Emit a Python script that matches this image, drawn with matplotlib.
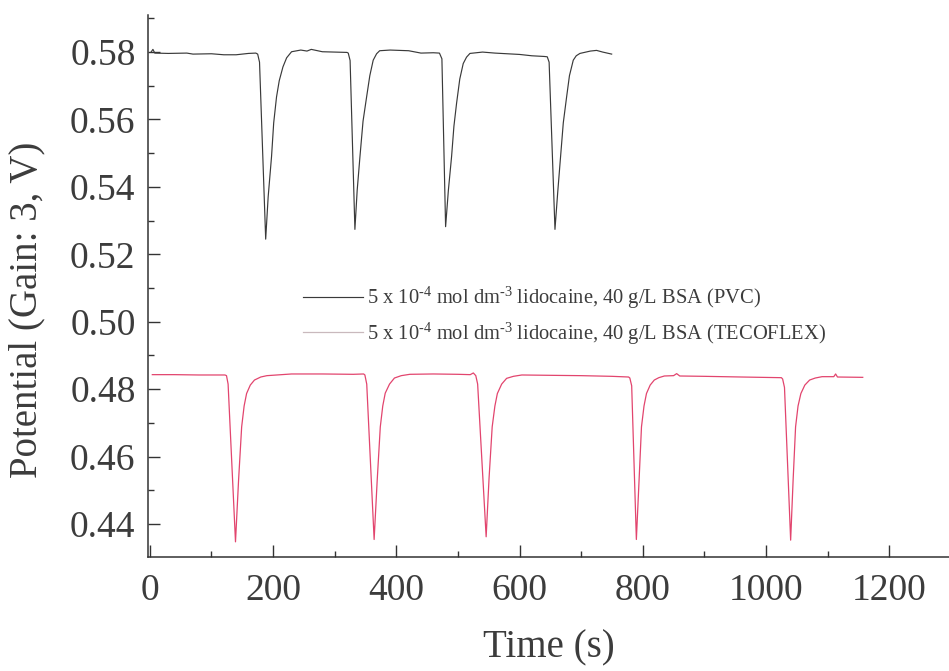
import matplotlib
matplotlib.use("Agg")
import matplotlib.pyplot as plt
from matplotlib.ticker import MultipleLocator

plt.rcParams["font.family"] = ["Liberation Serif", "DejaVu Serif"]
plt.rcParams["mathtext.fontset"] = "custom"
plt.rcParams["mathtext.rm"] = "Liberation Serif"
plt.rcParams["mathtext.it"] = "Liberation Serif:italic"

# PVC trace (time in s, potential in V)
pvc_t = [2, 5, 8, 30, 60, 70, 100, 120, 140, 160, 172, 175, 178, 188,
         192, 197.5, 201, 205.6, 210, 216, 222, 230, 245, 255, 262, 280, 300, 320,
         322, 325, 332.8, 336.5, 341, 346, 351.8, 357, 362.5, 368, 373,
         390, 420, 440, 460, 470, 474, 480, 484.5, 489.7, 493.5, 497.8, 503, 508.6, 514, 519.5,
         540, 560, 600, 620, 640, 645, 648, 657.5, 662, 666.6, 671, 676.4, 681, 687.2, 692, 698,
         715, 725, 735, 749.5]
pvc_v = [0.5800, 0.5808, 0.5797, 0.5796, 0.5797, 0.5794, 0.5795, 0.5792, 0.5792, 0.5796, 0.5797, 0.5794, 0.5770, 0.5245,
         0.5370, 0.5490, 0.5590, 0.5667, 0.5715, 0.5756, 0.5783, 0.5801, 0.5806, 0.5803, 0.5808, 0.5801, 0.5800, 0.5799,
         0.5797, 0.5775, 0.5274, 0.5390, 0.5490, 0.5595, 0.5667, 0.5730, 0.5776, 0.5795, 0.5804,
         0.5806, 0.5804, 0.5797, 0.5798, 0.5797, 0.5780, 0.5282, 0.5390, 0.5490, 0.5580, 0.5648, 0.5720, 0.5766, 0.5785, 0.5796,
         0.5800, 0.5797, 0.5793, 0.5789, 0.5787, 0.5786, 0.5770, 0.5274, 0.5385, 0.5490, 0.5590, 0.5667, 0.5730, 0.5776, 0.5789, 0.5796,
         0.5803, 0.5805, 0.5800, 0.5794]

# TECOFLEX trace
tec_t = [4, 40, 80, 110, 122, 124.4, 127, 139,
         144, 149, 153, 157, 163, 169.8, 180, 190, 230, 280, 330, 347, 349, 352, 364,
         369, 374, 378, 382, 389, 397, 408, 422, 460, 500, 520, 525, 529, 532, 545.8,
         550.5, 555.6, 560, 564, 571, 579, 590, 603.7, 650, 700, 750, 777, 779, 782, 789.6,
         794, 797.9, 802, 806, 812, 818.7, 826, 835, 850, 855, 860, 900, 960, 1025, 1027, 1030, 1040,
         1044, 1048, 1052, 1056.6, 1063, 1070.8, 1080, 1091, 1110, 1113, 1116, 1157]
tec_v = [0.4843, 0.4843, 0.4842, 0.4842, 0.4842, 0.4840, 0.4815, 0.4347,
         0.4530, 0.4688, 0.4750, 0.4787, 0.4812, 0.4827, 0.4836, 0.4840, 0.4845, 0.4845, 0.4844, 0.4845, 0.4842, 0.4815, 0.4354,
         0.4530, 0.4688, 0.4750, 0.4788, 0.4815, 0.4833, 0.4840, 0.4844, 0.4845, 0.4844, 0.4843, 0.4848, 0.4840, 0.4815, 0.4362,
         0.4535, 0.4688, 0.4750, 0.4787, 0.4815, 0.4832, 0.4838, 0.4842, 0.4841, 0.4840, 0.4838, 0.4836, 0.4833, 0.4810, 0.4354,
         0.4530, 0.4688, 0.4750, 0.4787, 0.4812, 0.4827, 0.4834, 0.4839, 0.4840, 0.4846, 0.4839, 0.4838, 0.4836, 0.4834, 0.4830, 0.4805, 0.4352,
         0.4530, 0.4688, 0.4750, 0.4787, 0.4812, 0.4827, 0.4833, 0.4837, 0.4837, 0.4845, 0.4836, 0.4835]

label_pvc = r"5 x 10$^{\text{-4}}$ mol dm$^{\text{-3}}$ lidocaine, 40 g/L BSA (PVC)"
label_tec = r"5 x 10$^{\text{-4}}$ mol dm$^{\text{-3}}$ lidocaine, 40 g/L BSA (TECOFLEX)"

txt = "#3c3c3c"
fig = plt.figure(figsize=(9.49, 6.71), dpi=100)
ax = fig.add_axes([148 / 949, 1 - 557 / 671, 801 / 949, 542 / 671])

ax.plot(pvc_t, pvc_v, color="#3a3a3a", lw=0.85, label=label_pvc)
ax.plot(tec_t, tec_v, color="#e2456e", lw=0.9, label=label_tec)

ax.set_xlim(-3, 1297)
ax.set_ylim(0.4302, 0.591)
ax.xaxis.set_major_locator(MultipleLocator(200))
ax.xaxis.set_minor_locator(MultipleLocator(100))
ax.yaxis.set_major_locator(MultipleLocator(0.02))
ax.yaxis.set_minor_locator(MultipleLocator(0.01))
ax.yaxis.set_major_formatter(plt.FormatStrFormatter("%.2f"))

for s in ["top", "right"]:
    ax.spines[s].set_visible(False)
for s in ["left", "bottom"]:
    ax.spines[s].set_linewidth(1.1)
    ax.spines[s].set_color("#333333")

ax.tick_params(which="both", direction="in", color="#333333", width=1.0,
               labelsize=27, labelcolor=txt)
ax.tick_params(which="major", length=8.5)
ax.tick_params(which="minor", length=4.3)
ax.tick_params(axis="x", which="major", pad=12)
ax.tick_params(axis="y", which="major", pad=9)

ax.set_xlabel("Time (s)", fontsize=28, color=txt, va="center")
ax.set_ylabel("Potential (Gain: 3, V)", fontsize=28, color=txt, va="center")
ax.xaxis.set_label_coords(0.5, -0.168)
ax.yaxis.set_label_coords(-0.151, 0.456)

leg = ax.legend(loc="upper left", bbox_to_anchor=(303 / 949, 1 - 285 / 671),
                bbox_transform=fig.transFigure, frameon=False, fontsize=14.8,
                handlelength=2.9, handletextpad=0.2, labelspacing=0.45,
                borderpad=0, borderaxespad=0)
for t in leg.get_texts():
    t.set_color(txt)
leg.get_lines()[1].set_color("#c9b9bd")

fig.savefig("out.png", dpi=100)
